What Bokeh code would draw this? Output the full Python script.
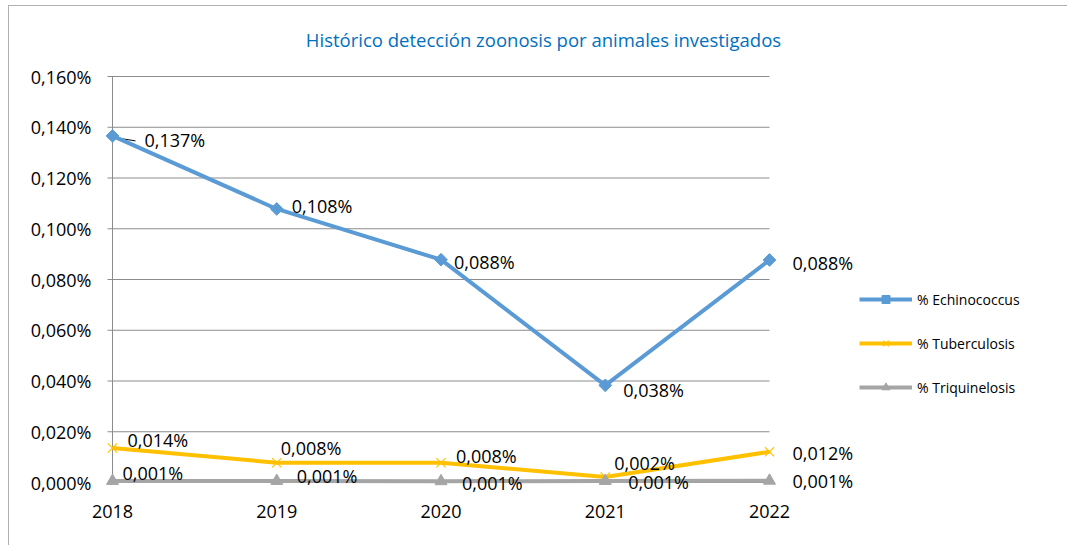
from bokeh.plotting import figure
from bokeh.models import (ColumnDataSource, LabelSet, Label, Legend, LegendItem,
                          Range1d, FixedTicker, CustomJSTickFormatter)
from bokeh.core.properties import value
from bokeh.embed import file_html
from bokeh.resources import INLINE
import math

# ---------------- data ----------------
years = [2018, 2019, 2020, 2021, 2022]
echinococcus = [0.1366, 0.1078, 0.0878, 0.0383, 0.0877]
tuberculosis = [0.0136, 0.0078, 0.0078, 0.0022, 0.0121]
triquinelosis = [0.0006, 0.0006, 0.0005, 0.0006, 0.0007]
series_names = ["% Echinococcus", "% Tuberculosis", "% Triquinelosis"]
y_ticks = [0.0, 0.02, 0.04, 0.06, 0.08, 0.10, 0.12, 0.14, 0.16]
title_text = "Histórico detección zoonosis por animales investigados"

# ---------------- styling / layout ----------------
colors = ["#5B9BD5", "#FFC000", "#A5A5A5"]
FONT = "Open Sans"
W, H = 1059, 540
ML, MR, MT, MB = 93, 0, 8, 54
frame_w = W - ML - MR
frame_h = H - MT - MB
pad = 10
px_x = 657 / (years[-1] - years[0])     # pixels per year
px_y = 406 / y_ticks[-1]                 # pixels per unit
x0 = years[0] - pad / px_x
y0 = y_ticks[0] - pad / px_y

# label offsets (screen px) per series
echin_dx = [32, 15, 13, 18, 23]
echin_dy = [-4, 3, -2, -5, -3]
tb_dx = [15, 4, 15, 9, 23]
tb_dy = [8, 15, 7, 14, -1]
tri_dx = [10, 20, 21, 23, 23]
tri_dy = [8, 5, -2, -1, 0]

p = figure(width=W, height=H, output_backend="svg", toolbar_location=None,
           x_range=Range1d(x0, x0 + frame_w / px_x),
           y_range=Range1d(y0, y0 + frame_h / px_y),
           min_border_left=ML, min_border_right=MR,
           min_border_top=MT, min_border_bottom=MB,
           margin=(5, 0, 0, 8),
           styles={"border-top": "1px solid #b0b0b0",
                   "border-left": "1px solid #b0b0b0"})
p.outline_line_color = None
p.grid.visible = False
p.background_fill_color = "white"
p.border_fill_color = "white"

# gridlines + tick marks (as segments) and vertical axis line
tick_len = 5 / px_x
p.segment(x0=[years[0] - tick_len] * len(y_ticks), y0=y_ticks,
          x1=[years[-1]] * len(y_ticks), y1=y_ticks,
          line_color="#8c8c8c", line_width=1)
p.segment(x0=[years[0]], y0=[y_ticks[0]], x1=[years[0]], y1=[y_ticks[-1]],
          line_color="#8c8c8c", line_width=1)

# axes
p.yaxis.ticker = FixedTicker(ticks=y_ticks)
p.yaxis.formatter = CustomJSTickFormatter(
    code="return tick.toFixed(3).replace('.', ',') + '%';")
p.xaxis.ticker = FixedTicker(ticks=years)
p.xaxis.formatter = CustomJSTickFormatter(code="return tick.toFixed(0);")
for ax in (p.xaxis, p.yaxis):
    ax.axis_line_color = None
    ax.major_tick_line_color = None
    ax.minor_tick_line_color = None
    ax.major_tick_out = 0
    ax.major_tick_in = 0
    ax.major_label_text_font = FONT
    ax.major_label_text_font_size = "18px"
    ax.major_label_text_color = "#000000"
p.yaxis.major_label_standoff = 11
p.xaxis.major_label_standoff = 12

# leader line for the first Echinococcus label
p.segment(x0=[years[0] + 4 / px_x], y0=[echinococcus[0] - 2 / px_y],
          x1=[years[0] + 23 / px_x], y1=[echinococcus[0] - 5 / px_y],
          line_color="#000000", line_width=1)

# series
all_series = [echinococcus, tuberculosis, triquinelosis]
offs = [(echin_dx, echin_dy), (tb_dx, tb_dy), (tri_dx, tri_dy)]
markers = ["square", "x", "triangle"]
legend_items = []
for vals, col, mk, name, (dx, dy) in zip(all_series, colors, markers, series_names, offs):
    src = ColumnDataSource(dict(
        x=years, y=vals, dx=dx, dy=dy,
        label=[f"{v:.3f}".replace(".", ",") + "%" for v in vals]))
    ln = p.line("x", "y", source=src, line_color=col, line_width=4)
    if mk == "square":
        sc = p.scatter("x", "y", source=src, marker="square", size=9,
                       angle=math.pi / 4, fill_color=col, line_color=col)
    elif mk == "x":
        sc = p.scatter("x", "y", source=src, marker="x", size=13,
                       line_color=col, line_width=1.2)
    else:
        sc = p.scatter("x", "y", source=src, marker="triangle", size=12,
                       fill_color=col, line_color=col)
    legend_items.append(LegendItem(label=name, renderers=[ln, sc]))
    p.add_layout(LabelSet(x="x", y="y", text="label", source=src,
                          x_offset="dx", y_offset="dy",
                          text_font=value(FONT), text_font_size="18px",
                          text_color="#000000", text_align="left",
                          text_baseline="middle"))

legend = Legend(items=legend_items, location=(757, 95), orientation="vertical",
                glyph_width=53, glyph_height=20, label_height=20,
                spacing=24, padding=0, margin=0, label_standoff=5,
                label_text_font=FONT, label_text_font_size="14px",
                label_text_color="#000000",
                border_line_color=None, background_fill_alpha=0)
p.add_layout(legend, "center")

p.add_layout(Label(x=441, y=453, x_units="screen", y_units="screen",
                   text=title_text, text_font=FONT, text_font_size="18.5px",
                   text_color="#0070C0", text_align="center",
                   text_baseline="middle"))

open("out.html", "w").write(file_html(p, INLINE))
